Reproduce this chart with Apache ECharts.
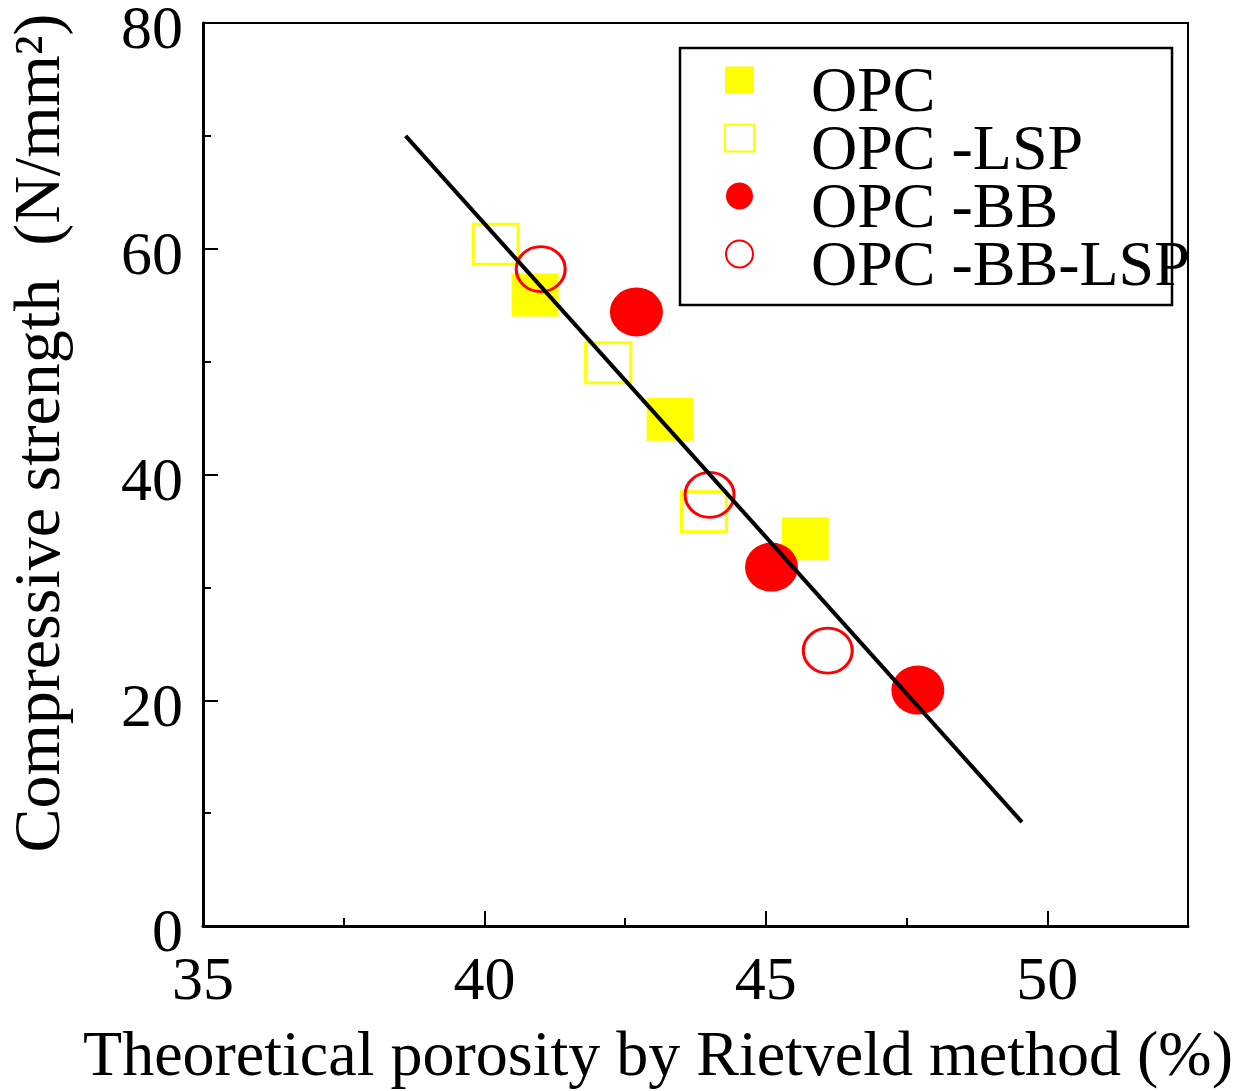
<!DOCTYPE html>
<html>
<head>
<meta charset="utf-8">
<script src="https://cdn.jsdelivr.net/npm/echarts@6/dist/echarts.min.js"></script>
<style>
html,body{margin:0;padding:0;background:#fff;}
#chart{width:1235px;height:1091px;}
</style>
</head>
<body>
<div id="chart"></div>
<script>
// Data
const seriesNames = ['OPC', 'OPC -LSP', 'OPC -BB', 'OPC -BB-LSP'];
const opc = [[40.9, 55.9], [43.3, 44.9], [45.7, 34.3]];
const opcLsp = [[40.2, 60.4], [42.2, 49.9], [43.9, 36.7]];
const opcBb = [[42.7, 54.4], [45.1, 31.8], [47.7, 20.9]];
const opcBbLsp = [[41.0, 58.2], [44.0, 38.2], [46.1, 24.4]];
const fitLine = [[38.6, 70.0], [49.55, 9.2]];
const xTicks = [35, 40, 45, 50];
const yTicks = [0, 20, 40, 60, 80];

const FONT = 'Liberation Serif';
const chart = echarts.init(document.getElementById('chart'), null, {renderer: 'canvas'});

const axisCommon = {
  axisLine: {show: true, lineStyle: {color: '#000', width: 3}},
  axisTick: {show: true, inside: true, length: 15, lineStyle: {color: '#000', width: 2}},
  minorTick: {show: true, splitNumber: 2, length: 8, lineStyle: {color: '#000', width: 2}},
  splitLine: {show: false},
  minorSplitLine: {show: false}
};

chart.setOption({
  animation: false,
  backgroundColor: '#fff',
  grid: {left: 203, right: 47, top: 23, bottom: 165, show: true, borderColor: '#000', borderWidth: 2,
    containLabel: false, outerBoundsMode: 'none'},
  xAxis: Object.assign({
    type: 'value', min: xTicks[0], max: 52.5, interval: 5,
    name: 'Theoretical porosity by Rietveld method (%)',
    nameLocation: 'middle', nameGap: 100,
    nameTextStyle: {fontFamily: FONT, fontSize: 64, color: '#000', padding: [0, 75, 0, 0]},
    axisLabel: {fontFamily: FONT, fontSize: 62, color: '#000', margin: 26, showMaxLabel: false,
      formatter: v => xTicks.includes(v) ? String(v) : ''}
  }, axisCommon),
  yAxis: Object.assign({
    type: 'value', min: yTicks[0], max: yTicks[yTicks.length - 1], interval: 20,
    name: 'Compressive strength  (N/mm²)',
    nameLocation: 'middle', nameGap: 128,
    nameTextStyle: {fontFamily: FONT, fontSize: 66, color: '#000', padding: [0, 0, 0, 83]},
    axisLabel: {fontFamily: FONT, fontSize: 62, color: '#000', margin: 20,
      verticalAlign: 'top', lineHeight: 18}
  }, axisCommon),
  legend: {
    data: seriesNames,
    orient: 'vertical',
    left: 724, top: 34,
    padding: 0,
    itemWidth: 29, itemHeight: 27,
    itemGap: -34,
    selectedMode: false,
    formatter: n => '{t|' + n + '}',
    textStyle: {
      rich: {t: {fontFamily: FONT, fontSize: 64, color: '#000', lineHeight: 22, padding: [28, 0, 0, 52]}}
    }
  },
  graphic: [{
    type: 'rect', z: 0,
    shape: {x: 680, y: 48, width: 492, height: 257},
    style: {fill: 'none', stroke: '#000', lineWidth: 2.5}
  }],
  series: [
    {name: seriesNames[0], type: 'scatter', symbol: 'rect', symbolSize: [47, 43],
      itemStyle: {color: '#ffff00', opacity: 1}, data: opc},
    {name: seriesNames[1], type: 'scatter', symbol: 'rect', symbolSize: [45, 40],
      itemStyle: {color: 'rgba(255,255,255,0)', borderColor: '#ffff00', borderWidth: 3, opacity: 1}, data: opcLsp},
    {name: seriesNames[2], type: 'scatter', symbol: 'circle', symbolSize: [53, 49],
      itemStyle: {color: '#ff0000', opacity: 1}, data: opcBb},
    {name: seriesNames[3], type: 'scatter', symbol: 'circle', symbolSize: [49, 45],
      itemStyle: {color: 'rgba(255,255,255,0)', borderColor: '#ff0000', borderWidth: 3, opacity: 1}, data: opcBbLsp},
    {name: 'fit', type: 'line', showSymbol: false, symbol: 'none', z: 5,
      lineStyle: {color: '#000', width: 4}, data: fitLine}
  ]
});
</script>
</body>
</html>
